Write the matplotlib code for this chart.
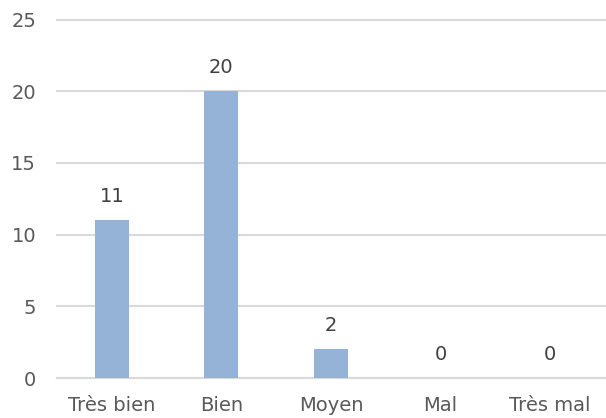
import matplotlib
matplotlib.use("Agg")
import matplotlib.pyplot as plt

categories = ["Très bien", "Bien", "Moyen", "Mal", "Très mal"]
values = [11, 20, 2, 0, 0]
yticks = [0, 5, 10, 15, 20, 25]

text_color = "#404040"
tick_color = "#595959"
bar_color = "#95B3D7"
grid_color = "#D9D9D9"

plt.rcParams['font.family'] = ['DejaVu Sans']
fig = plt.figure(figsize=(6.06, 4.18), dpi=100)
ax = fig.add_axes([57/606, 1 - 378/418, 548/606, (378 - 19.5)/418])

x = list(range(len(categories)))
ax.bar(x, values, width=0.31, color=bar_color, zorder=3)
for xi, v in zip(x, values):
    ax.annotate(str(v), (xi, v), xytext=(0, 10), textcoords="offset points",
                ha="center", va="bottom", fontsize=14, color=text_color)

ax.set_xlim(-0.5, len(categories) - 0.5)
ax.set_ylim(0, 25)
ax.set_yticks(yticks)
ax.set_xticks(x)
ax.set_xticklabels(categories)
ax.yaxis.grid(True, color=grid_color, linewidth=1.5, zorder=0)
for gl in ax.get_ygridlines():
    gl.set_clip_on(False)
ax.set_axisbelow(True)
for s in ["top", "right", "left"]:
    ax.spines[s].set_visible(False)
ax.spines["bottom"].set_color(grid_color)
ax.spines["bottom"].set_linewidth(1.5)
ax.tick_params(axis="both", length=0, labelsize=14, colors=tick_color)
ax.tick_params(axis="y", pad=15)
ax.tick_params(axis="x", pad=13)

fig.savefig("out.png", dpi=100)
